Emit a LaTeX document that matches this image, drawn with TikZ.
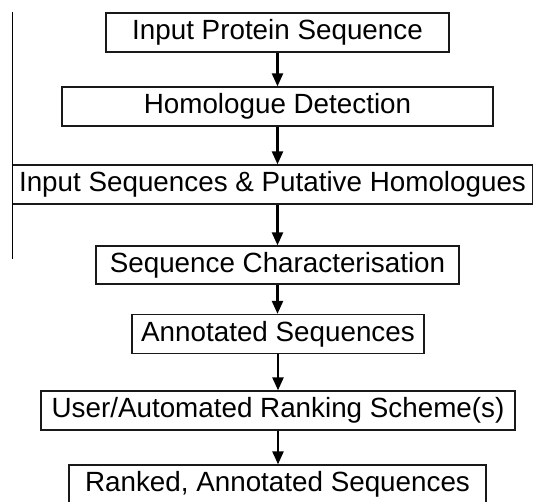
\documentclass[tikz,border=0pt]{standalone}
\usepackage{fontspec}
\setmainfont{Liberation Sans}
\usetikzlibrary{arrows.meta}
\begin{document}
\begin{tikzpicture}[x=1bp,y=-1bp,
  box/.style={draw=black!90, line width=1.3bp, inner sep=0pt, minimum height=39bp,
    font=\fontsize{27.8bp}{30bp}\selectfont, text=black},
  arr/.style={line width=2.4bp, -{Triangle[width=11bp,length=13bp]}}]
\useasboundingbox (0,0) rectangle (533,502);
\node[box, minimum width=343bp] (n1) at (277.5,32.5) {Input Protein Sequence};
\node[box, minimum width=431bp] (n2) at (277.5,106.5) {Homologue Detection};
\node[box, minimum width=520bp] (n3) at (272.5,184.5) {Input Sequences \& Putative Homologues};
\node[box, minimum width=363bp, minimum height=38bp] (n4) at (277.5,265) {Sequence Characterisation};
\node[box, minimum width=292bp] (n5) at (278,334) {Annotated Sequences};
\node[box, minimum width=474bp] (n6) at (278,410.5) {User/Automated Ranking Scheme(s)};
\node[box, minimum width=417bp] (n7) at (277.5,484.5) {Ranked, Annotated Sequences};
\coordinate (vtop) at (12.5,12);
\coordinate (vbot) at (12.5,259);
\draw[line width=1.6bp] (vtop) -- (vbot);
\draw[arr] (n1.south) -- (n2.north);
\draw[arr] (n2.south) -- (n2.south |- n3.north);
\draw[arr] (n4.north |- n3.south) -- (n4.north);
\draw[arr] (n4.south) -- (n4.south |- n5.north);
\draw[arr] (n5.south) -- (n5.south |- n6.north);
\draw[arr] (n6.south) -- (n6.south |- n7.north);
\end{tikzpicture}
\end{document}
